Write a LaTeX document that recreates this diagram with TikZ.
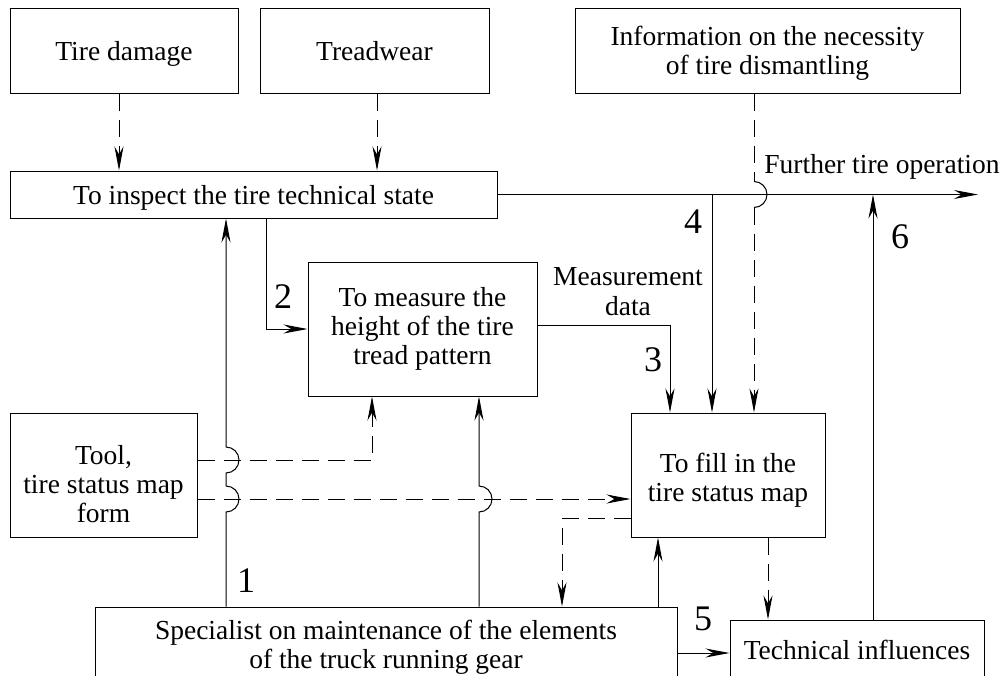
\documentclass[tikz,border=0pt]{standalone}
\usepackage{fontspec}
\setmainfont{Liberation Serif}
\usetikzlibrary{arrows.meta}
\begin{document}
\begin{tikzpicture}[x=1pt,y=-1pt,
 box/.style={draw, line width=1pt, inner sep=0pt, align=center, font=\fontsize{27.5}{29}\selectfont},
 ln/.style={line width=1pt},
 dsh/.style={line width=1pt, dash pattern=on 17pt off 9pt},
 arr/.style={-{Stealth[length=24pt,width=9pt]}},
 lbl/.style={inner sep=0pt, anchor=base, font=\fontsize{27.5}{29}\selectfont},
 num/.style={inner sep=0pt, anchor=base, font=\fontsize{36}{36}\selectfont}]
\useasboundingbox (0,0) rectangle (1007,675);
\clip (0,0) rectangle (1007,675);

% boxes
\node[box, minimum width=228pt, minimum height=85pt, text depth=0pt] (dmg) at (124,50.5) {Tire damage};
\node[box, minimum width=229pt, minimum height=85pt, text depth=0pt] (wear) at (374.5,50.5) {Treadwear};
\node[box, minimum width=385pt, minimum height=85pt] (info) at (767.5,50.5) {\rule{0pt}{25pt}Information on the necessity\\of tire dismantling};
\node[box, minimum width=487pt, minimum height=47pt, text depth=0pt] (insp) at (253.5,194.5) {To inspect the tire technical state};
\node[box, minimum width=229pt, minimum height=134pt] (meas) at (422.5,329) {To measure the\\height of the tire\\tread pattern};
\node[box, minimum width=187pt, minimum height=124pt] (tool) at (103.5,475) {\rule{0pt}{37pt}Tool,\\tire status map\\form};
\node[box, minimum width=194pt, minimum height=124pt] (fill) at (728,475) {\rule{0pt}{29pt}To fill in the\\tire status map};
\node[box, minimum width=582pt, minimum height=80pt] (spec) at (386,647) {Specialist on maintenance of the elements\\of the truck running gear};
\node[box, minimum width=254pt, minimum height=60pt] (tech) at (857,650) {Technical influences};

% helper coordinates
\coordinate (xa) at (119,0);
\coordinate (xb) at (377,0);
\coordinate (xc) at (754,0);
\coordinate (x4) at (712,0);
\coordinate (x3) at (670,0);
\coordinate (x6) at (873,0);
\coordinate (x2) at (266,0);
\coordinate (x1) at (226,0);
\coordinate (xm) at (479,0);
\coordinate (xt) at (372,0);
\coordinate (xd) at (562,0);
\coordinate (xu) at (658,0);
\coordinate (xe) at (768,0);
\coordinate (y3) at (0,325);
\coordinate (yt1) at (0,460);
\coordinate (yt2) at (0,499);
\coordinate (yf) at (0,518);
\coordinate (y5) at (0,653);
\coordinate (outend) at (978,194.5);
\coordinate (hopa) at (754,181.5);
\coordinate (hopb) at (754,207.5);

% inputs to inspection
\draw[dsh,arr] (dmg.south -| xa) -- (insp.north -| xa);
\draw[dsh,arr] (wear.south -| xb) -- (insp.north -| xb);

% output line
\draw[ln,arr] (insp.east) -- (outend);
\node[lbl] at (882,173) {Further tire operation};

% info dashed with hop
\draw[dsh] (info.south -| xc) -- (hopa);
\draw[ln] (hopa) arc[start angle=-90,end angle=90,radius=13];
\draw[dsh,arr] (hopb) -- (fill.north -| xc);

% 4
\draw[ln,arr] (insp.east -| x4) -- (fill.north -| x4);
\node[num] at (693,233) {4};

% 6
\draw[ln,arr] (tech.north -| x6) -- (insp.east -| x6);
\node[num] at (900,248) {6};

% 2
\draw[ln,arr] (insp.south -| x2) |- (meas.west);
\node[num] at (283,308) {2};

% 3
\draw[ln,arr] (meas.east |- y3) -| (fill.north -| x3);
\node[lbl] at (628,285) {Measurement};
\node[lbl] at (628,315) {data};
\node[num] at (653,371) {3};

% tool dashed
\draw[dsh,arr] (tool.east |- yt1) -| (meas.south -| xt);
\draw[dsh,arr] (tool.east |- yt2) -- (fill.west |- yt2);

% 1 with hops
\draw[ln,arr] (spec.north -| x1) -- (226,512) arc[start angle=90,end angle=-90,radius=13]
  -- (226,473) arc[start angle=90,end angle=-90,radius=13] -- (insp.south -| x1);
\node[num] at (246,592) {1};

% middle line with hop
\draw[ln,arr] (spec.north -| xm) -- (479,512) arc[start angle=90,end angle=-90,radius=13] -- (meas.south -| xm);

% fill <-> specialist
\draw[dsh,arr] (fill.west |- yf) -| (spec.north -| xd);
\draw[ln,arr] (spec.north -| xu) -- (fill.south -| xu);
\draw[dsh,arr] (fill.south -| xe) -- (tech.north -| xe);

% 5
\draw[ln,arr] (spec.east |- y5) -- (tech.west |- y5);
\node[num] at (703,630) {5};
\end{tikzpicture}
\end{document}
